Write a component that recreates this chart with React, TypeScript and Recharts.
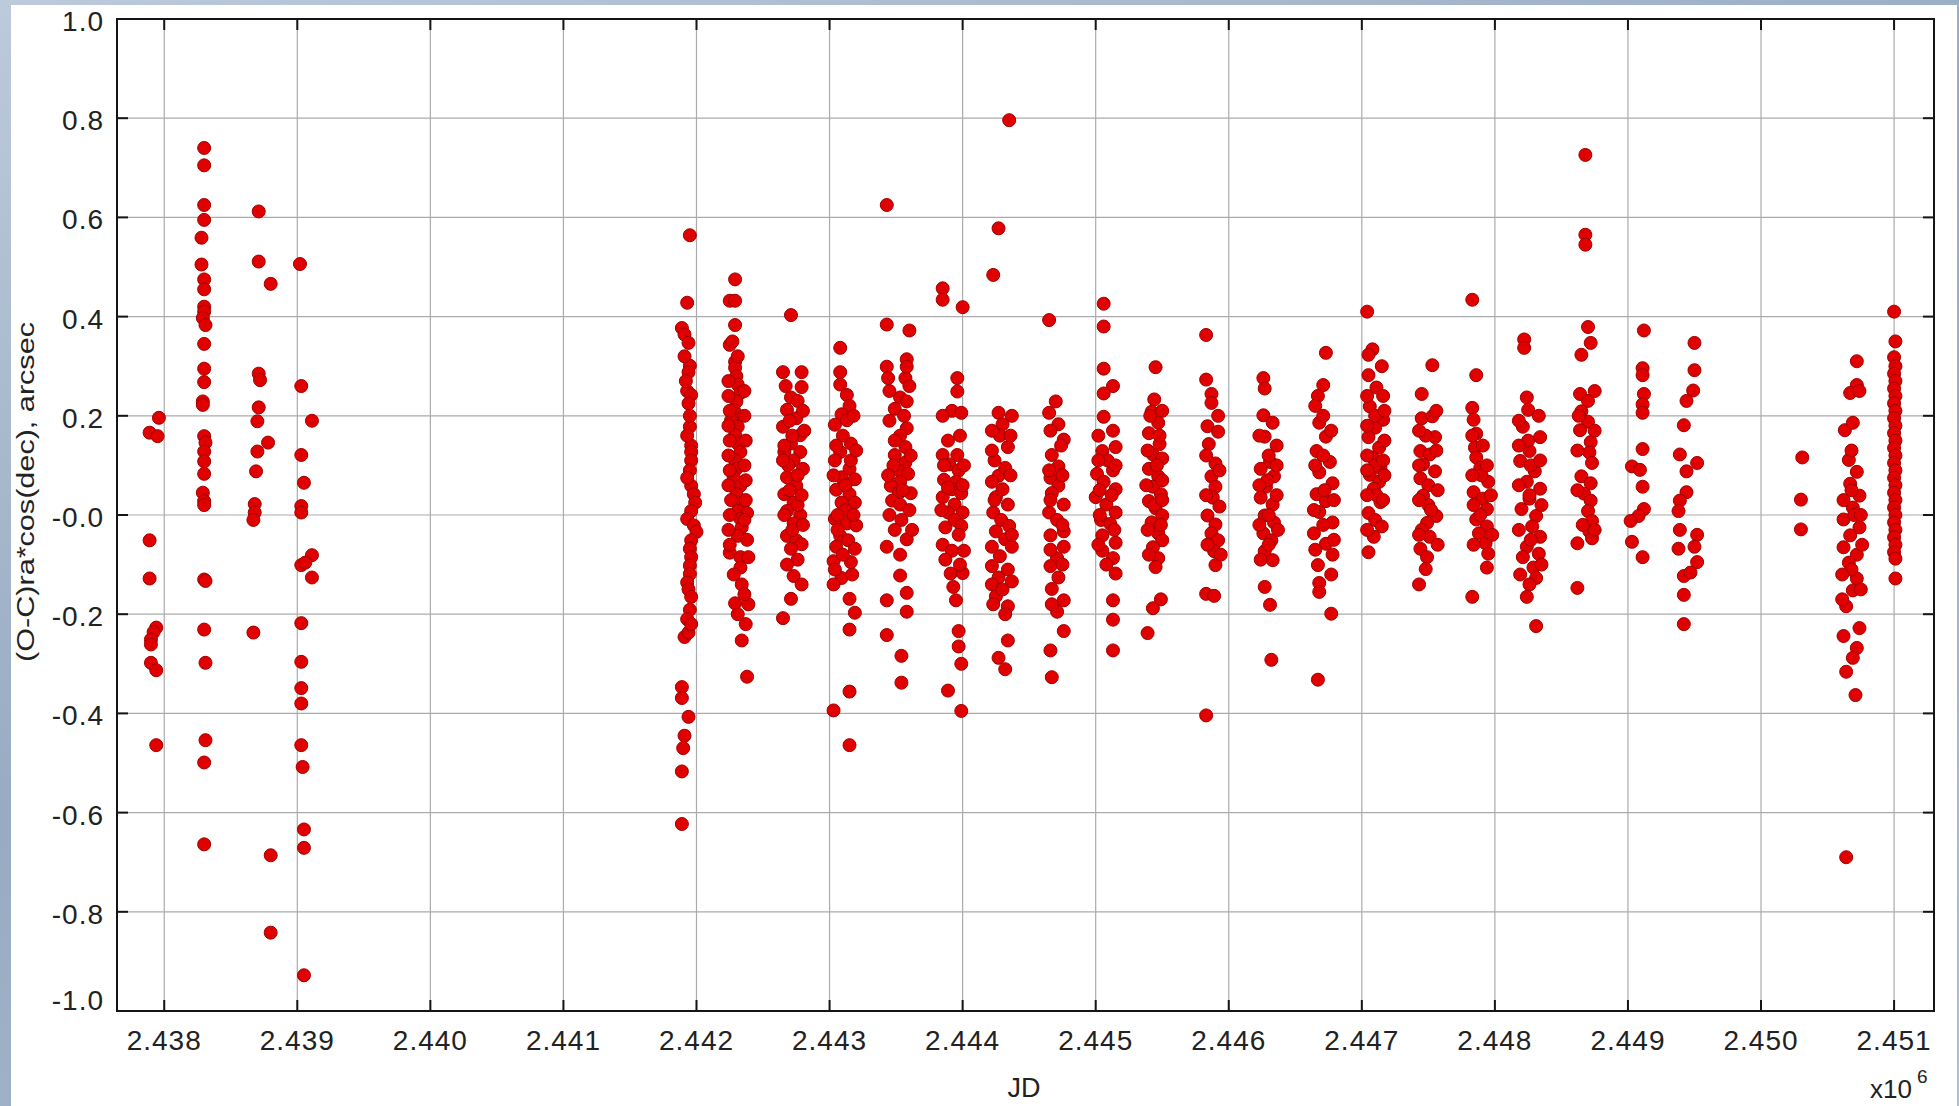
import {
  ScatterChart,
  Scatter,
  XAxis,
  YAxis,
  CartesianGrid,
  ReferenceArea,
  Label,
} from "recharts";

// JD axis is in units of 10^6 days
const xTicks = [2.438, 2.439, 2.44, 2.441, 2.442, 2.443, 2.444, 2.445, 2.446, 2.447, 2.448, 2.449, 2.45, 2.451];
const xTickLabels = ["2.438", "2.439", "2.440", "2.441", "2.442", "2.443", "2.444", "2.445", "2.446", "2.447", "2.448", "2.449", "2.450", "2.451"];
const yTicks = [-1, -0.8, -0.6, -0.4, -0.2, 0, 0.2, 0.4, 0.6, 0.8, 1];
const yTickLabels = ["-1.0", "-0.8", "-0.6", "-0.4", "-0.2", "-0.0", "0.2", "0.4", "0.6", "0.8", "1.0"];
const X_MIN = 2.437645;
const X_MAX = 2.4513;

type Obs = [number, number];

// observing seasons: [JD / 1e6, (O-C) ra*cos(dec), arcsec]
const season37900: Obs[] = [
  [2.43789, 0.166], [2.43795, 0.159], [2.43796, 0.196], [2.43789, -0.051], [2.43789, -0.128],
  [2.43794, -0.227], [2.43792, -0.236], [2.4379, -0.251], [2.4379, -0.261], [2.4379, -0.298],
  [2.43794, -0.313], [2.43794, -0.464],
];
const season38300: Obs[] = [
  [2.4383, 0.74], [2.4383, 0.705], [2.4383, 0.625], [2.4383, 0.595], [2.43828, 0.559], [2.43828, 0.505],
  [2.4383, 0.475], [2.4383, 0.455], [2.4383, 0.42], [2.4383, 0.41], [2.43829, 0.397], [2.43831, 0.383],
  [2.4383, 0.345], [2.4383, 0.295], [2.4383, 0.268], [2.43829, 0.229], [2.43829, 0.222], [2.4383, 0.159],
  [2.43831, 0.146], [2.4383, 0.128], [2.4383, 0.108], [2.4383, 0.083], [2.43829, 0.045], [2.4383, 0.028],
  [2.4383, 0.02], [2.4383, -0.13], [2.43831, -0.133], [2.4383, -0.231], [2.43831, -0.298],
  [2.43831, -0.454], [2.4383, -0.499], [2.4383, -0.664],
];
const season38700: Obs[] = [
  [2.43871, 0.612], [2.43871, 0.511], [2.4388, 0.466], [2.43871, 0.285], [2.43872, 0.272], [2.43871, 0.217],
  [2.4387, 0.189], [2.43878, 0.146], [2.4387, 0.128], [2.43869, 0.088], [2.43868, 0.022], [2.43868, 0.005],
  [2.43867, -0.01], [2.43867, -0.237], [2.4388, -0.686], [2.4388, -0.842],
];
const season39100: Obs[] = [
  [2.43902, 0.506], [2.43903, 0.26], [2.43911, 0.19], [2.43903, 0.121], [2.43905, 0.065], [2.43903, 0.018],
  [2.43903, 0.005], [2.43911, -0.081], [2.43903, -0.101], [2.43906, -0.096], [2.43911, -0.126],
  [2.43903, -0.218], [2.43903, -0.296], [2.43903, -0.349], [2.43903, -0.38], [2.43903, -0.464],
  [2.43904, -0.508], [2.43905, -0.634], [2.43905, -0.671], [2.43905, -0.928],
];
const season41900: Obs[] = [
  [2.44195, 0.564], [2.44193, 0.428], [2.44189, 0.377], [2.44191, 0.364], [2.44194, 0.347], [2.44195, 0.301],
  [2.44194, 0.288], [2.44193, 0.25], [2.44196, 0.242], [2.44194, 0.225], [2.44195, 0.178], [2.44196, 0.14],
  [2.44196, 0.127], [2.44196, 0.11], [2.44196, 0.059], [2.44198, 0.042], [2.44199, 0.025], [2.44196, 0.008],
  [2.44193, -0.008], [2.44198, -0.021], [2.442, -0.034], [2.44196, -0.051], [2.44195, -0.068],
  [2.44196, -0.085], [2.44195, -0.102], [2.44195, -0.119], [2.44193, -0.136], [2.44195, -0.191],
  [2.44191, -0.246], [2.44194, -0.237], [2.44189, -0.347], [2.44189, -0.369], [2.44194, -0.407],
  [2.44191, -0.445], [2.4419, -0.47], [2.44189, -0.517], [2.44189, -0.623],
  [2.44191, 0.32], [2.44195, 0.2], [2.44193, 0.16], [2.44195, 0.09], [2.44193, 0.075], [2.44194, -0.15],
  [2.44196, -0.165], [2.44193, -0.21], [2.44196, -0.22], [2.44192, 0.27],
];
const season42300: Obs[] = [
  [2.44229, 0.475], [2.44225, 0.432], [2.44229, 0.432], [2.44229, 0.383], [2.44225, 0.343], [2.44229, 0.309],
  [2.44229, 0.297], [2.4423, 0.28], [2.44231, 0.263], [2.44233, 0.246], [2.4423, 0.229], [2.44228, 0.212],
  [2.4423, 0.203], [2.44226, 0.191], [2.44231, 0.178], [2.44229, 0.161], [2.44231, 0.144], [2.44233, 0.127],
  [2.44229, 0.11], [2.4423, 0.093], [2.44228, 0.076], [2.44233, 0.059], [2.4423, 0.042], [2.44235, 0.025],
  [2.44231, 0.008], [2.44238, 0.004], [2.44233, -0.008], [2.44234, -0.025], [2.44231, -0.042],
  [2.44225, -0.076], [2.44233, -0.085], [2.44239, -0.085], [2.44233, -0.106], [2.44234, -0.14],
  [2.44229, -0.178], [2.44239, -0.18], [2.44234, -0.253], [2.44238, -0.326],
  [2.44224, 0.27], [2.44224, 0.24], [2.44225, 0.21], [2.44224, 0.18], [2.44225, 0.15], [2.44224, 0.12],
  [2.44225, 0.09], [2.44224, 0.06], [2.44226, 0.03], [2.44225, 0.0], [2.44224, -0.03], [2.44225, -0.06],
  [2.44236, 0.25], [2.44236, 0.2], [2.44237, 0.15], [2.44236, 0.1], [2.44237, 0.07], [2.44237, 0.03],
  [2.44236, -0.01], [2.44238, -0.05], [2.44227, 0.35], [2.44231, 0.32], [2.44228, -0.12], [2.44236, -0.16],
  [2.44231, -0.2], [2.44237, -0.22],
];
const season42700: Obs[] = [
  [2.44271, 0.403], [2.44265, 0.288], [2.44279, 0.288], [2.44279, 0.258], [2.44271, 0.237], [2.44268, 0.212],
  [2.44275, 0.195], [2.44265, 0.178], [2.44278, 0.161], [2.44271, 0.144], [2.44266, 0.127], [2.44278, 0.127],
  [2.44273, 0.11], [2.4428, 0.093], [2.44268, 0.076], [2.44275, 0.059], [2.44266, 0.042], [2.44273, 0.025],
  [2.44268, 0.008], [2.44278, 0.0], [2.44273, -0.017], [2.44268, -0.042], [2.44275, -0.051],
  [2.44279, -0.059], [2.44271, -0.068], [2.44273, -0.123], [2.44279, -0.14], [2.44271, -0.169],
  [2.44265, -0.208],
  [2.4427, 0.19], [2.44272, 0.16], [2.44269, 0.1], [2.44276, 0.08], [2.4427, 0.05], [2.44276, 0.02],
  [2.44272, -0.03], [2.44266, 0.14], [2.44267, 0.26], [2.44276, 0.23], [2.4428, 0.21], [2.44265, 0.11],
  [2.44279, 0.04], [2.44266, 0.0], [2.4428, -0.02], [2.44276, -0.09], [2.44268, -0.1], [2.44281, 0.17],
];
const season43100: Obs[] = [
  [2.44308, 0.337], [2.44308, 0.288], [2.44308, 0.263], [2.44313, 0.242], [2.44315, 0.22], [2.44309, 0.203],
  [2.44304, 0.182], [2.44313, 0.191], [2.44316, 0.144], [2.44308, 0.127], [2.44304, 0.11], [2.44315, 0.093],
  [2.44309, 0.076], [2.44319, 0.072], [2.44305, 0.051], [2.44315, 0.042], [2.44309, 0.025], [2.44319, 0.025],
  [2.44304, -0.008], [2.44313, -0.017], [2.4432, -0.021], [2.44308, -0.042], [2.44314, -0.051],
  [2.44305, -0.064], [2.44319, -0.068], [2.44303, -0.093], [2.44316, -0.095], [2.44309, -0.127],
  [2.44303, -0.14], [2.44315, -0.169], [2.44319, -0.197], [2.44315, -0.231], [2.44315, -0.356],
  [2.44303, -0.394], [2.44315, -0.464],
  [2.4431, 0.16], [2.44312, 0.06], [2.44312, 0.01], [2.44306, 0.0], [2.44316, 0.11], [2.44318, 0.2],
  [2.44305, 0.14], [2.4432, 0.13], [2.44303, 0.08], [2.44318, 0.0], [2.44306, -0.03], [2.4431, -0.08],
  [2.44317, -0.12], [2.44304, -0.11],
];
const season43500: Obs[] = [
  [2.44343, 0.625], [2.44343, 0.384], [2.4436, 0.372], [2.44343, 0.299], [2.44344, 0.276], [2.44358, 0.314],
  [2.44357, 0.276], [2.44358, 0.299], [2.44353, 0.237], [2.44349, 0.214], [2.44358, 0.229], [2.44358, 0.175],
  [2.44353, 0.16], [2.44357, 0.137], [2.44349, 0.121], [2.44357, 0.106], [2.44352, 0.09], [2.44359, 0.083],
  [2.44353, 0.067], [2.44346, 0.059], [2.44352, 0.044], [2.44361, 0.044], [2.44347, 0.029], [2.44353, 0.021],
  [2.44354, -0.01], [2.44343, -0.064], [2.44358, -0.049], [2.44353, -0.08], [2.44353, -0.122],
  [2.44358, -0.157], [2.44343, -0.172], [2.44358, -0.195], [2.44343, -0.242], [2.44354, -0.284],
  [2.44354, -0.338],
  [2.44348, 0.1], [2.44355, 0.05], [2.44349, 0.15], [2.44356, 0.2], [2.4436, 0.26], [2.44345, 0.19],
  [2.44361, 0.12], [2.44344, 0.08], [2.4436, 0.01], [2.44345, 0.0], [2.44362, -0.03], [2.44349, -0.03],
  [2.44345, 0.25],
];
const season43900: Obs[] = [
  [2.44385, 0.457], [2.44385, 0.434], [2.444, 0.419], [2.44396, 0.276], [2.44396, 0.249], [2.44392, 0.21],
  [2.44399, 0.206], [2.44385, 0.121], [2.44396, 0.121], [2.4439, 0.102], [2.44397, 0.09], [2.44386, 0.071],
  [2.44395, 0.067], [2.44392, 0.052], [2.44399, 0.044], [2.44385, 0.036], [2.44394, 0.021], [2.44389, 0.005],
  [2.444, 0.005], [2.44394, -0.01], [2.44387, -0.025], [2.44399, -0.022], [2.44385, -0.06], [2.44392, -0.072],
  [2.44401, -0.072], [2.44391, -0.118], [2.444, -0.117], [2.44395, -0.172], [2.44397, -0.234],
  [2.44397, -0.265], [2.44399, -0.3], [2.44389, -0.354], [2.44399, -0.395],
  [2.44389, 0.15], [2.44398, 0.16], [2.44386, 0.1], [2.44401, 0.1], [2.44389, 0.055], [2.444, 0.06],
  [2.44384, 0.01], [2.44397, -0.04], [2.44387, -0.09], [2.44398, -0.1], [2.44393, -0.145], [2.44385, 0.2],
];
const season44300: Obs[] = [
  [2.44435, 0.796], [2.44427, 0.578], [2.44423, 0.484], [2.44427, 0.206], [2.4443, 0.183], [2.44434, 0.137],
  [2.44424, 0.11], [2.44427, 0.079], [2.44422, 0.067], [2.4443, 0.052], [2.44425, 0.036], [2.44434, 0.021],
  [2.44423, 0.005], [2.44429, -0.01], [2.44435, -0.022], [2.44425, -0.033], [2.44432, -0.049],
  [2.44422, -0.064], [2.44437, -0.064], [2.44428, -0.083], [2.44422, -0.103], [2.44434, -0.11],
  [2.44427, -0.126], [2.44437, -0.134], [2.44425, -0.164], [2.44434, -0.184], [2.44434, -0.253],
  [2.44427, -0.288], [2.44432, -0.311],
  [2.44428, 0.16], [2.44432, 0.095], [2.44437, 0.2], [2.44422, 0.17], [2.44436, 0.16], [2.44422, 0.13],
  [2.44436, 0.08], [2.44424, 0.03], [2.44437, -0.04], [2.44422, -0.14], [2.4443, -0.15], [2.44423, -0.18],
  [2.44432, -0.2],
];
const season44700: Obs[] = [
  [2.44465, 0.393], [2.4447, 0.229], [2.44465, 0.206], [2.44472, 0.183], [2.44476, 0.152], [2.44467, 0.121],
  [2.44472, 0.098], [2.44466, 0.075], [2.44472, 0.059], [2.44467, 0.044], [2.44476, 0.021], [2.44465, 0.005],
  [2.44471, -0.01], [2.44476, -0.033], [2.44466, -0.041], [2.44476, -0.064], [2.44471, -0.087],
  [2.44466, -0.103], [2.44472, -0.126], [2.44467, -0.149], [2.44476, -0.172], [2.44471, -0.195],
  [2.44476, -0.234], [2.44466, -0.273], [2.44467, -0.327],
  [2.44466, 0.17], [2.44474, 0.14], [2.44465, 0.09], [2.44475, 0.08], [2.44466, 0.03], [2.44475, -0.02],
  [2.44466, -0.07], [2.44475, -0.1], [2.44467, -0.18],
];
const season45100: Obs[] = [
  [2.44506, 0.426], [2.44506, 0.38], [2.44506, 0.295], [2.44513, 0.26], [2.44506, 0.245], [2.44506, 0.198],
  [2.44515, 0.137], [2.44505, 0.129], [2.44501, 0.083], [2.44513, 0.09], [2.44506, 0.067], [2.44515, 0.052],
  [2.445, 0.036], [2.44508, 0.021], [2.44515, 0.005], [2.44504, -0.01], [2.44511, -0.018], [2.44505, -0.041],
  [2.44515, -0.056], [2.44505, -0.072], [2.44513, -0.087], [2.44515, -0.118], [2.44513, -0.172],
  [2.44513, -0.211], [2.44513, -0.273],
  [2.44509, 0.11], [2.44503, 0.0], [2.44502, 0.11], [2.44515, 0.1], [2.44503, 0.05], [2.44512, 0.04],
  [2.44514, -0.03], [2.44502, -0.06], [2.44508, -0.1], [2.44502, 0.16], [2.44513, 0.17],
];
const season45400: Obs[] = [
  [2.44545, 0.298], [2.44544, 0.233], [2.44542, 0.208], [2.44547, 0.186], [2.4454, 0.165], [2.44548, 0.143],
  [2.44543, 0.122], [2.4455, 0.114], [2.4454, 0.093], [2.44547, 0.078], [2.44543, 0.057], [2.44549, 0.042],
  [2.4454, 0.028], [2.44545, 0.014], [2.4455, -0.001], [2.44542, -0.015], [2.44547, -0.037], [2.4455, -0.051],
  [2.44543, -0.065], [2.44547, -0.087], [2.44545, -0.105], [2.44549, -0.17], [2.44543, -0.188],
  [2.44539, -0.238],
  [2.44546, 0.1], [2.44544, 0.02], [2.44548, 0.16], [2.44541, 0.2], [2.4455, 0.21], [2.44539, 0.13],
  [2.4455, 0.07], [2.44538, 0.06], [2.4455, 0.03], [2.44539, -0.03], [2.44549, -0.02], [2.4454, -0.08],
];
const season45900: Obs[] = [
  [2.44583, 0.363], [2.44583, 0.273], [2.44587, 0.244], [2.44587, 0.226], [2.44584, 0.179], [2.44592, 0.168],
  [2.44585, 0.143], [2.4459, 0.104], [2.44587, 0.078], [2.4459, 0.057], [2.44588, 0.035], [2.44593, 0.017],
  [2.44584, -0.001], [2.4459, -0.019], [2.44587, -0.037], [2.44592, -0.051], [2.44589, -0.073],
  [2.4459, -0.101], [2.44583, -0.159], [2.44589, -0.163], [2.44583, -0.404],
  [2.44592, 0.2], [2.44583, 0.12], [2.44593, 0.09], [2.44583, 0.04], [2.44594, -0.08], [2.44584, -0.06],
];
const season46300: Obs[] = [
  [2.44626, 0.276], [2.44627, 0.255], [2.44626, 0.201], [2.44633, 0.186], [2.44627, 0.158], [2.44636, 0.14],
  [2.44631, 0.107], [2.44624, 0.093], [2.44634, 0.078], [2.44628, 0.057], [2.44624, 0.035], [2.44633, 0.021],
  [2.44627, -0.001], [2.44634, -0.015], [2.44626, -0.037], [2.44632, -0.051], [2.44627, -0.073],
  [2.44633, -0.091], [2.44627, -0.145], [2.44631, -0.181], [2.44632, -0.292],
  [2.4463, 0.12], [2.44629, 0.07], [2.4463, 0.0], [2.4463, -0.06], [2.44623, 0.16], [2.44636, 0.1],
  [2.44623, 0.06], [2.44636, 0.04], [2.44623, -0.02], [2.44637, -0.03], [2.44624, -0.09],
];
const season46700: Obs[] = [
  [2.44673, 0.327], [2.44671, 0.262], [2.44667, 0.24], [2.44668, 0.186], [2.44673, 0.158], [2.44666, 0.129],
  [2.44676, 0.107], [2.44668, 0.086], [2.44678, 0.064], [2.44666, 0.042], [2.44673, 0.028], [2.44668, 0.006],
  [2.44678, -0.015], [2.44664, -0.037], [2.44673, -0.058], [2.44678, -0.08], [2.44667, -0.101],
  [2.44668, -0.137], [2.44668, -0.155], [2.44677, -0.199], [2.44667, -0.332],
  [2.44671, 0.12], [2.44672, 0.05], [2.44671, -0.02], [2.44671, 0.2], [2.44665, 0.22], [2.44677, 0.17],
  [2.44665, 0.1], [2.44679, 0.03], [2.44664, 0.01], [2.44679, -0.05], [2.44665, -0.07], [2.44677, -0.12],
];
const season47100: Obs[] = [
  [2.44704, 0.41], [2.44708, 0.334], [2.44705, 0.323], [2.44705, 0.282], [2.44711, 0.257], [2.44716, 0.24],
  [2.44706, 0.219], [2.44716, 0.192], [2.4471, 0.176], [2.44705, 0.157], [2.44713, 0.136], [2.44708, 0.116],
  [2.44714, 0.095], [2.44706, 0.081], [2.44713, 0.067], [2.44709, 0.053], [2.44714, 0.026], [2.44705, 0.004],
  [2.4471, -0.01], [2.44715, -0.023], [2.44709, -0.044], [2.44705, -0.075],
  [2.4471, 0.2], [2.4471, 0.1], [2.44711, 0.04], [2.44715, 0.3], [2.44704, 0.24], [2.44717, 0.21],
  [2.44704, 0.18], [2.44717, 0.15], [2.44704, 0.12], [2.44716, 0.11], [2.44704, 0.09], [2.44717, 0.08],
  [2.44704, 0.04], [2.44716, 0.03], [2.44704, -0.03],
];
const season47500: Obs[] = [
  [2.44753, 0.302], [2.44745, 0.244], [2.44745, 0.195], [2.44753, 0.199], [2.44755, 0.157], [2.44744, 0.129],
  [2.44751, 0.122], [2.44746, 0.102], [2.44755, 0.088], [2.44744, 0.074], [2.4475, 0.06], [2.44746, 0.039],
  [2.44756, -0.002], [2.44749, -0.016], [2.44745, -0.03], [2.44751, -0.044], [2.44744, -0.068],
  [2.44749, -0.085], [2.44748, -0.109], [2.44743, -0.14],
  [2.4475, 0.02], [2.44748, 0.16], [2.44752, 0.01], [2.44756, 0.21], [2.44743, 0.17], [2.44756, 0.13],
  [2.44743, 0.1], [2.44757, 0.05], [2.44743, 0.03], [2.44757, -0.06], [2.44743, -0.04],
];
const season47900: Obs[] = [
  [2.44783, 0.434], [2.44786, 0.282], [2.44783, 0.216], [2.44784, 0.192], [2.44786, 0.164], [2.44785, 0.136],
  [2.44786, 0.116], [2.44789, 0.095], [2.44795, 0.067], [2.44784, 0.046], [2.44791, 0.033], [2.44794, 0.012],
  [2.44786, -0.009], [2.44794, -0.023], [2.44788, -0.037], [2.44793, -0.057], [2.44795, -0.078],
  [2.44794, -0.106], [2.44783, -0.165],
  [2.4479, 0.08], [2.44789, 0.0], [2.44791, 0.14], [2.44783, 0.16], [2.44794, 0.1], [2.44783, 0.08],
  [2.44797, 0.04], [2.44784, 0.02], [2.44798, -0.04], [2.44784, -0.06],
];
const season48200: Obs[] = [
  [2.44822, 0.354], [2.44822, 0.337], [2.44824, 0.237], [2.44825, 0.212], [2.44821, 0.178], [2.44834, 0.157],
  [2.44826, 0.129], [2.44819, 0.109], [2.4483, 0.088], [2.44824, 0.067], [2.44834, 0.053], [2.44826, 0.033],
  [2.4482, 0.012], [2.44831, -0.002], [2.44828, -0.023], [2.44834, -0.044], [2.44824, -0.064],
  [2.44833, -0.078], [2.44821, -0.085], [2.44829, -0.106], [2.44831, -0.127], [2.44824, -0.165],
  [2.44831, -0.224],
  [2.44827, 0.1], [2.44826, 0.04], [2.44827, -0.05], [2.44825, 0.15], [2.44818, 0.19], [2.44833, 0.2],
  [2.44818, 0.14], [2.44834, 0.11], [2.44818, 0.06], [2.44835, 0.02], [2.44818, -0.03], [2.44835, -0.1],
  [2.44819, -0.12], [2.44826, -0.14],
];
const season48700: Obs[] = [
  [2.44868, 0.726], [2.44868, 0.565], [2.44868, 0.545], [2.4487, 0.379], [2.44872, 0.347], [2.44865, 0.323],
  [2.44864, 0.244], [2.4487, 0.23], [2.44865, 0.209], [2.4487, 0.188], [2.44864, 0.171], [2.44872, 0.147],
  [2.44871, 0.126], [2.44873, 0.105], [2.44865, 0.078], [2.44872, 0.064], [2.44867, 0.043], [2.44872, 0.029],
  [2.4487, 0.008], [2.44873, -0.012], [2.44871, -0.033], [2.44873, -0.047], [2.44862, -0.057],
  [2.44862, -0.147],
  [2.44875, 0.25], [2.44863, 0.2], [2.44875, 0.17], [2.44862, 0.13], [2.44862, 0.05], [2.44875, -0.03],
  [2.44866, -0.02],
];
const season49100: Obs[] = [
  [2.44912, 0.372], [2.44911, 0.296], [2.44911, 0.282], [2.44912, 0.244], [2.44911, 0.223], [2.44911, 0.206],
  [2.44911, 0.133], [2.44903, 0.098], [2.44909, 0.091], [2.44911, 0.057], [2.44912, 0.012], [2.44908, -0.002],
  [2.44902, -0.012], [2.44903, -0.054], [2.44911, -0.085],
];
const season49500: Obs[] = [
  [2.4495, 0.347], [2.4495, 0.292], [2.44949, 0.251], [2.44944, 0.23], [2.44942, 0.181], [2.44939, 0.122],
  [2.44952, 0.105], [2.44944, 0.088], [2.44944, 0.046], [2.44939, 0.029], [2.44938, 0.008], [2.44939, -0.03],
  [2.44952, -0.04], [2.44938, -0.068], [2.4495, -0.064], [2.44952, -0.095], [2.44942, -0.123],
  [2.44947, -0.116], [2.44942, -0.161], [2.44942, -0.22],
];
const season50300: Obs[] = [[2.45031, 0.116], [2.4503, 0.031], [2.4503, -0.029]];
const season50700: Obs[] = [
  [2.45072, 0.31], [2.45072, 0.262], [2.45067, 0.246], [2.45074, 0.25], [2.45063, 0.171], [2.45069, 0.186],
  [2.45066, 0.111], [2.45072, 0.087], [2.45067, 0.063], [2.45074, 0.039], [2.45069, 0.015], [2.45062, -0.009],
  [2.45074, -0.025], [2.45067, -0.041], [2.45062, -0.065], [2.45072, -0.08], [2.45066, -0.096],
  [2.45072, -0.128], [2.45069, -0.152], [2.45064, -0.184], [2.45074, -0.228], [2.45062, -0.244],
  [2.45072, -0.268], [2.45069, -0.288], [2.45064, -0.316], [2.45071, -0.363], [2.45064, -0.69],
  [2.45068, 0.13], [2.4507, 0.0], [2.45068, -0.11], [2.45068, 0.05], [2.45075, 0.0], [2.45062, 0.03],
  [2.45076, -0.06], [2.45061, -0.12], [2.45075, -0.15], [2.45061, -0.17],
];
const season51000: Obs[] = [
  [2.451, 0.41], [2.45101, 0.35], [2.451, 0.318], [2.45101, 0.3], [2.451, 0.285], [2.45101, 0.27],
  [2.451, 0.255], [2.45101, 0.24], [2.451, 0.225], [2.45101, 0.21], [2.451, 0.195], [2.45101, 0.18],
  [2.451, 0.165], [2.45101, 0.15], [2.451, 0.135], [2.45101, 0.12], [2.451, 0.105], [2.45101, 0.09],
  [2.451, 0.075], [2.45101, 0.06], [2.451, 0.045], [2.45101, 0.03], [2.451, 0.015], [2.45101, 0.0],
  [2.451, -0.015], [2.45101, -0.03], [2.451, -0.045], [2.45101, -0.06], [2.451, -0.075], [2.45101, -0.088],
  [2.45101, -0.128],
];

const seasons = [
  season37900, season38300, season38700, season39100, season41900, season42300, season42700, season43100,
  season43500, season43900, season44300, season44700, season45100, season45400, season45900, season46300,
  season46700, season47100, season47500, season47900, season48200, season48700, season49100, season49500,
  season50300, season50700, season51000,
];
const points = seasons.flat().map(([x, y]) => ({ x, y }));

const W = 1959;
const H = 1106;
const PLOT_TOP = 19;
const PLOT_BOTTOM = 1011;
const PLOT_LEFT = 117;
const PLOT_RIGHT = 1934;
const FONT = "'Liberation Sans', Arial, Helvetica, sans-serif";
const FRAME = "#151515";

const XTick = (props: any) => {
  const { x, payload } = props;
  const label = xTickLabels[xTicks.indexOf(payload.value)];
  return (
    <g>
      <line x1={x} x2={x} y1={PLOT_BOTTOM} y2={PLOT_BOTTOM - 11} stroke={FRAME} strokeWidth={2} />
      <line x1={x} x2={x} y1={PLOT_TOP} y2={PLOT_TOP + 11} stroke={FRAME} strokeWidth={2} />
      <text x={x} y={1050} textAnchor="middle" fontSize={28} letterSpacing={1} fill="#222" fontFamily={FONT}>
        {label}
      </text>
    </g>
  );
};

const YTick = (props: any) => {
  const { y, payload } = props;
  const label = yTickLabels[yTicks.indexOf(payload.value)];
  // the bottom label sits just above the axis line
  const baseline = payload.value === -1 ? y - 1 : y + 12;
  return (
    <g>
      <line x1={PLOT_LEFT} x2={PLOT_LEFT + 11} y1={y} y2={y} stroke={FRAME} strokeWidth={2} />
      <line x1={PLOT_RIGHT} x2={PLOT_RIGHT - 11} y1={y} y2={y} stroke={FRAME} strokeWidth={2} />
      <text x={104} y={baseline} textAnchor="end" fontSize={28} letterSpacing={1} fill="#222" fontFamily={FONT}>
        {label}
      </text>
    </g>
  );
};

const renderDot = (props: any) => (
  <circle cx={props.cx} cy={props.cy} r={6.5} fill="#e00000" stroke="#a00000" strokeWidth={1} />
);

export default function App() {
  return (
    <div
      style={{
        position: "absolute",
        left: 0,
        top: 0,
        width: W,
        height: H,
        overflow: "hidden",
        background: "linear-gradient(160deg, #bccadb 0%, #98abc2 45%, #aebfd2 100%)",
      }}
    >
      <div style={{ position: "absolute", left: 11, top: 5, width: 1946, height: 1101, background: "#fff" }} />
      <div style={{ position: "absolute", left: 0, top: 0 }}>
        <ScatterChart width={W} height={H} margin={{ top: PLOT_TOP, right: W - PLOT_RIGHT, bottom: 0, left: 0 }}>
          <CartesianGrid stroke="#ababab" strokeWidth={1.2} />
          <XAxis
            type="number"
            dataKey="x"
            domain={[X_MIN, X_MAX]}
            ticks={xTicks}
            interval={0}
            allowDataOverflow
            height={H - PLOT_BOTTOM}
            tickSize={0}
            axisLine={false}
            tick={<XTick />}
          >
            <Label
              content={() => (
                <g fontFamily={FONT} fill="#222">
                  <text x={1024} y={1097} textAnchor="middle" fontSize={27}>
                    JD
                  </text>
                  <text x={1870} y={1098} fontSize={26}>
                    x10
                  </text>
                  <text x={1917} y={1083} fontSize={19}>
                    6
                  </text>
                </g>
              )}
            />
          </XAxis>
          <YAxis
            type="number"
            dataKey="y"
            domain={[-1, 1]}
            ticks={yTicks}
            interval={0}
            allowDataOverflow
            width={PLOT_LEFT}
            tickSize={0}
            axisLine={false}
            tick={<YTick />}
          >
            <Label
              content={() => (
                <text
                  x={34}
                  y={492}
                  transform="rotate(-90 34 492)"
                  textAnchor="middle"
                  fontSize={23}
                  textLength={340}
                  lengthAdjust="spacingAndGlyphs"
                  fill="#222"
                  fontFamily={FONT}
                >
                  (O-C)ra*cos(dec), arcsec
                </text>
              )}
            />
          </YAxis>
          <ReferenceArea
            x1={X_MIN}
            x2={X_MAX}
            y1={-1}
            y2={1}
            fill="none"
            fillOpacity={0}
            stroke={FRAME}
            strokeWidth={2}
            ifOverflow="visible"
          />
          <Scatter data={points} dataKey="y" shape={renderDot} isAnimationActive={false} />
        </ScatterChart>
      </div>
    </div>
  );
}
